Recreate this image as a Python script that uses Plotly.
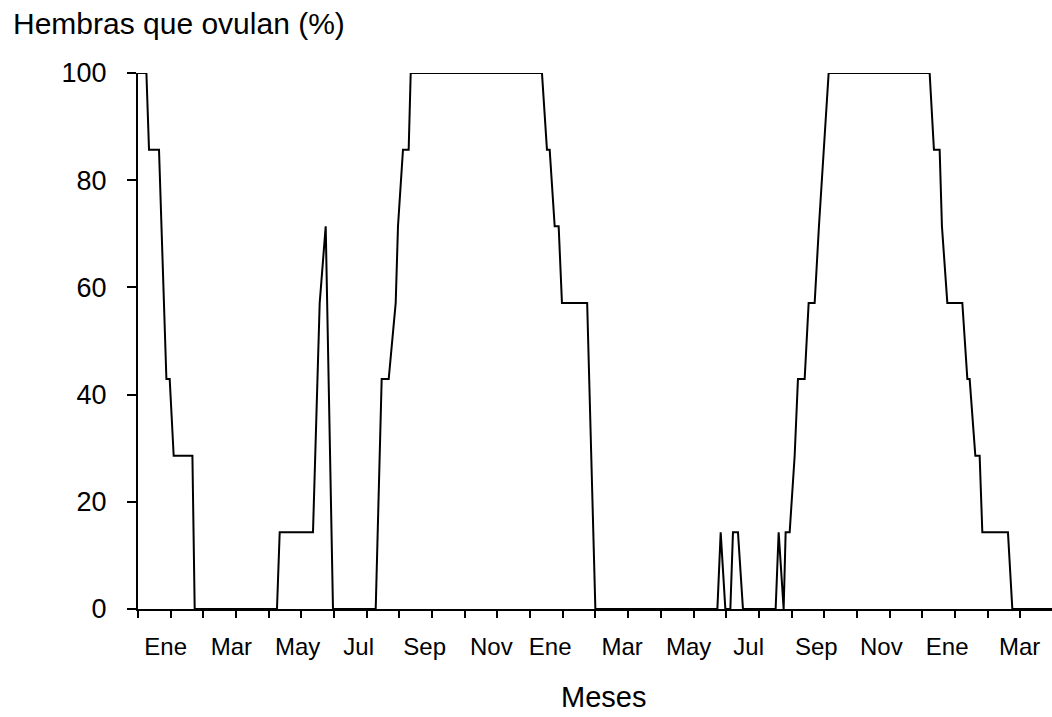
import plotly.graph_objects as go

# Time in months from the start of the axis, and % of females ovulating
months = [0.000, 0.257, 0.337, 0.643, 0.869, 0.970, 1.092, 1.665, 1.735, 4.253,
          4.336, 5.355, 5.560, 5.744, 5.967, 7.274, 7.457, 7.672, 7.886, 7.956,
          8.109, 8.283, 8.345, 12.362, 12.515, 12.598, 12.751, 12.873, 12.974, 13.745,
          13.996, 17.730, 17.831, 17.974, 18.127, 18.207, 18.360, 18.513, 19.513, 19.605,
          19.758, 19.819, 19.942, 20.095, 20.196, 20.401, 20.523, 20.707, 20.838, 20.991,
          21.135, 24.226, 24.357, 24.532, 24.602, 24.767, 25.226, 25.380, 25.450, 25.624,
          25.756, 25.838, 26.622, 26.756, 27.970]
ovulating = [100, 100, 85.7, 85.7, 42.9, 42.9, 28.6, 28.6, 0, 0,
             14.3, 14.3, 57.1, 71.4, 0, 0, 42.9, 42.9, 57.1, 71.4,
             85.7, 85.7, 100, 100, 85.7, 85.7, 71.4, 71.4, 57.1, 57.1,
             0, 0, 14.3, 0, 0, 14.3, 14.3, 0, 0, 14.3,
             0, 14.3, 14.3, 28.6, 42.9, 42.9, 57.1, 57.1, 71.4, 85.7,
             100, 100, 85.7, 85.7, 71.4, 57.1, 57.1, 42.9, 42.9, 28.6,
             28.6, 14.3, 14.3, 0, 0]

month_ticks = list(range(0, 28))
label_pos = [0.848, 2.858, 4.887, 6.754, 8.773, 10.814, 12.613, 14.816,
             16.851, 18.687, 20.759, 22.748, 24.761, 26.980]
label_text = ["Ene", "Mar", "May", "Jul", "Sep", "Nov", "Ene", "Mar",
              "May", "Jul", "Sep", "Nov", "Ene", "Mar"]
y_ticks = [0, 20, 40, 60, 80, 100]

FONT = "Arial, Liberation Sans, sans-serif"

fig = go.Figure()
fig.add_trace(go.Scatter(x=months, y=ovulating, mode="lines",
                         line=dict(color="black", width=2),
                         cliponaxis=False, showlegend=False))

fig.update_layout(
    width=1052, height=717,
    margin=dict(l=138, r=0, t=73, b=108),
    paper_bgcolor="white", plot_bgcolor="white",
    font=dict(family=FONT, color="black"),
    xaxis=dict(range=[0, 27.97], showgrid=False, zeroline=False,
               showline=True, linecolor="black", linewidth=2,
               tickmode="array", tickvals=label_pos, ticktext=label_text,
               ticks="outside", ticklen=7, tickcolor="rgba(0,0,0,0)",
               ticklabelstandoff=8,
               tickfont=dict(size=24, family=FONT, color="black"),
               minor=dict(tickmode="array", tickvals=month_ticks,
                          ticks="outside", ticklen=7, tickwidth=2,
                          tickcolor="black", showgrid=False)),
    yaxis=dict(range=[0, 100], showgrid=False, zeroline=False,
               showline=True, linecolor="black", linewidth=2,
               tickmode="array", tickvals=y_ticks,
               ticks="outside", ticklen=9, tickwidth=2, tickcolor="black",
               ticklabelstandoff=15,
               tickfont=dict(size=27, family=FONT, color="black")),
    annotations=[
        dict(text="Hembras que ovulan (%)", xref="paper", yref="paper",
             x=-0.1390, y=1.093, xanchor="left", yanchor="middle",
             showarrow=False, font=dict(size=30, family=FONT, color="black")),
        dict(text="Meses", xref="paper", yref="paper",
             x=0.5088, y=-0.165, xanchor="center", yanchor="middle",
             showarrow=False, font=dict(size=29, family=FONT, color="black")),
    ],
)

fig.write_html("out.html")
